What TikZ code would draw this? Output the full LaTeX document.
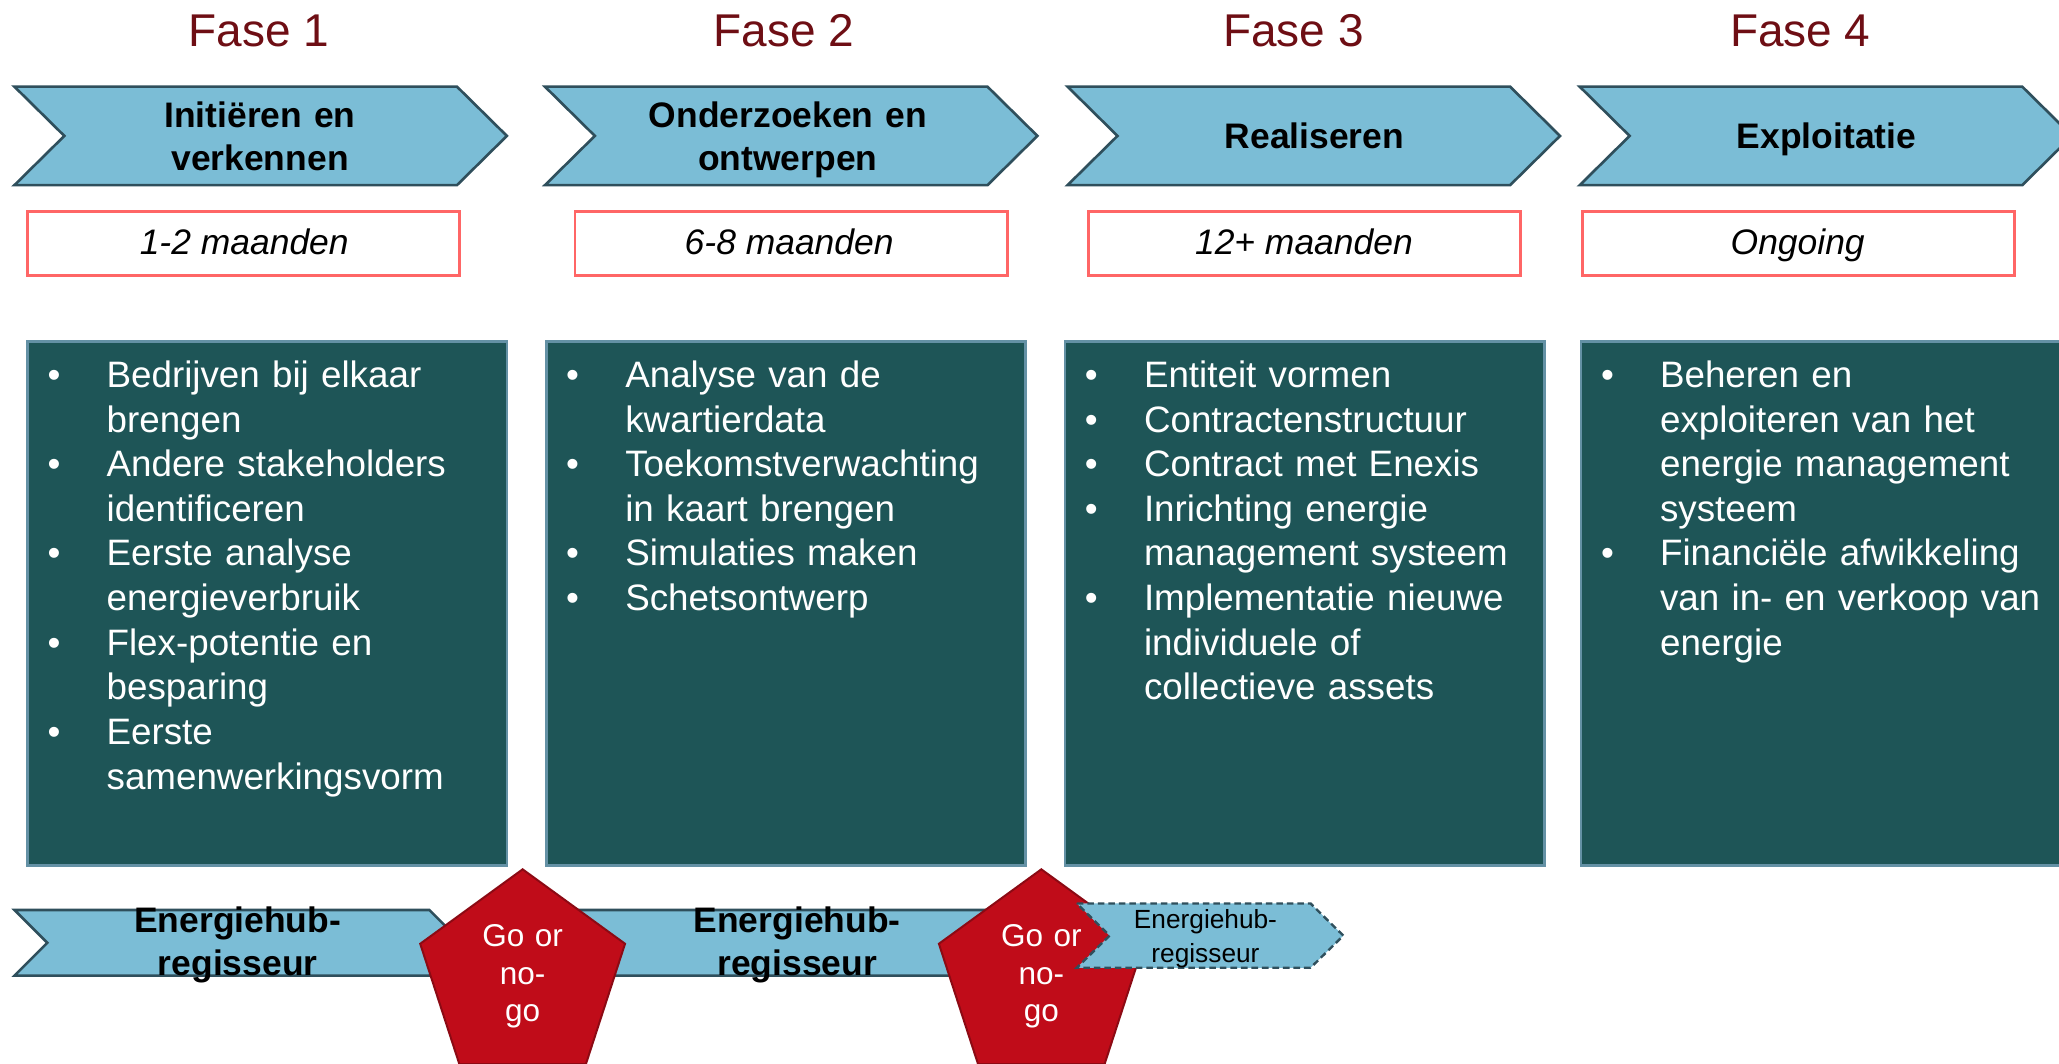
\documentclass[tikz,border=0pt]{standalone}
\usepackage{fontspec}
\setmainfont{Liberation Sans}
\definecolor{chevfill}{RGB}{123,189,214}
\definecolor{chevedge}{RGB}{47,79,92}
\definecolor{darkfill}{RGB}{30,85,87}
\definecolor{darkedge}{RGB}{100,145,165}
\definecolor{durationedge}{RGB}{255,102,102}
\definecolor{gofill}{RGB}{192,12,25}
\definecolor{goedge}{RGB}{140,10,20}
\definecolor{fasecol}{RGB}{110,14,20}
\newcommand\chevshape[6]{\path[#1] (#2,#3) -- ({#2+#5-#6},#3) -- ({#2+#5},{(#3+#4)/2}) -- ({#2+#5-#6},#4) -- (#2,#4) -- ({#2+#6},{(#3+#4)/2}) -- cycle;}
\newcommand\pentshape[2]{\path[pentstyle] (#1,#2) -- ({#1+78},{#2+56.7}) -- ({#1+48.2},{#2+148.3}) -- ({#1-48.2},{#2+148.3}) -- ({#1-78},{#2+56.7}) -- cycle;}
\newcommand\bl[1]{\noindent\hangindent=45pt\hangafter=1\makebox[45pt][l]{\textbullet}#1\par}
\tikzset{
  chevstyle/.style={fill=chevfill, draw=chevedge, line width=2pt, line join=miter},
  dashchev/.style={fill=chevfill, draw=chevedge, line width=1.8pt, dashed, dash pattern=on 5pt off 3pt},
  pentstyle/.style={fill=gofill, draw=goedge, line width=1.5pt, line join=miter},
  fasetext/.style={font=\fontsize{35}{40}\selectfont, text=fasecol, anchor=base, inner sep=0pt},
  chevtext/.style={font=\bfseries\fontsize{27}{32.5}\selectfont, anchor=base, inner sep=0pt, text width=330pt, align=center},
  durbox/.style={draw=durationedge, fill=white, line width=2pt, minimum width=329pt, minimum height=49pt, anchor=north west, inner sep=0pt},
  durtext/.style={font=\itshape\fontsize{27}{32}\selectfont, anchor=base, inner sep=0pt},
  darkbox/.style={fill=darkfill, draw=darkedge, line width=2pt, minimum width=365pt, minimum height=399pt, anchor=north west, inner sep=0pt},
  bullettext/.style={font=\fontsize{28}{34}\selectfont, text=white, anchor=base west, inner sep=0pt, text width=360pt, align=left},
  hubtext/.style={font=\bfseries\fontsize{27}{33}\selectfont, anchor=base, inner sep=0pt, text width=300pt, align=center},
  gotext/.style={font=\fontsize{24}{28.5}\selectfont, text=white, anchor=base, inner sep=0pt, text width=100pt, align=center},
  smallhub/.style={font=\fontsize{20}{26}\selectfont, anchor=base, inner sep=0pt, text width=200pt, align=center}
}
\begin{document}
\begin{tikzpicture}[x=1pt,y=-1pt]
\clip (0,0) rectangle (1568,810);
\fill[white] (0,0) rectangle (1568,810);
% phase titles
\node[fasetext] (fase1) at (197,35.5) {Fase 1};
\node[fasetext] (fase2) at (597,35.5) {Fase 2};
\node[fasetext] (fase3) at (985,35.5) {Fase 3};
\node[fasetext] (fase4) at (1371,35.5) {Fase 4};
% top chevrons
\chevshape{chevstyle}{11}{66}{141}{375}{38}
\chevshape{chevstyle}{415}{66}{141}{375}{38}
\chevshape{chevstyle}{813}{66}{141}{375}{38}
\chevshape{chevstyle}{1203}{66}{141}{375}{38}
\node[chevtext] (ct1) at (198,97) {Initiëren en\\verkennen};
\node[chevtext] (ct2) at (600,97) {Onderzoeken en\\ontwerpen};
\node[chevtext] (ct3) at (1001,113) {Realiseren};
\node[chevtext] (ct4) at (1391,113) {Exploitatie};
% durations
\node[durbox] (d1) at (20,160) {};
\node[durbox] (d2) at (437,160) {};
\node[durbox] (d3) at (828,160) {};
\node[durbox] (d4) at (1204,160) {};
\node[durtext] (dt1) at (186,194) {1-2 maanden};
\node[durtext] (dt2) at (601,194) {6-8 maanden};
\node[durtext] (dt3) at (993,194) {12+ maanden};
\node[durtext] (dt4) at (1369,194) {Ongoing};
% dark boxes
\node[darkbox] (b1) at (20,259) {};
\node[darkbox] (b2) at (415,259) {};
\node[darkbox] (b3) at (810,259) {};
\node[darkbox, minimum width=380pt] (b4) at (1203,259) {};
\node[bullettext] (l1) at (36,295) {%
\bl{Bedrijven bij elkaar\newline brengen}%
\bl{Andere stakeholders\newline identificeren}%
\bl{Eerste analyse\newline energieverbruik}%
\bl{Flex-potentie en\newline besparing}%
\bl{Eerste\newline samenwerkingsvorm}};
\node[bullettext] (l2) at (431,295) {%
\bl{Analyse van de\newline kwartierdata}%
\bl{Toekomstverwachting\newline in kaart brengen}%
\bl{Simulaties maken}%
\bl{Schetsontwerp}};
\node[bullettext] (l3) at (826,295) {%
\bl{Entiteit vormen}%
\bl{Contractenstructuur}%
\bl{Contract met Enexis}%
\bl{Inrichting energie\newline management systeem}%
\bl{Implementatie nieuwe\newline individuele of\newline collectieve assets}};
\node[bullettext] (l4) at (1219,295) {%
\bl{Beheren en\newline exploiteren van het\newline energie management\newline systeem}%
\bl{Financiële afwikkeling\newline van in- en verkoop van\newline energie}};
% bottom row
\chevshape{chevstyle}{11}{693}{743}{341}{25}
\chevshape{chevstyle}{430}{693}{743}{347}{25}
\node[hubtext] (h1) at (181,710) {Energiehub-\\regisseur};
\node[hubtext] (h2) at (607,710) {Energiehub-\\regisseur};
\pentshape{398}{662}
\node[gotext] (g1) at (398,721) {Go or\\no-\\go};
\pentshape{793}{662}
\chevshape{dashchev}{820}{688}{737}{203}{25}
\node[smallhub] (h3) at (918,707) {Energiehub-\\regisseur};
\node[gotext] (g2) at (793,721) {Go or\\no-\\go};
\end{tikzpicture}
\end{document}
